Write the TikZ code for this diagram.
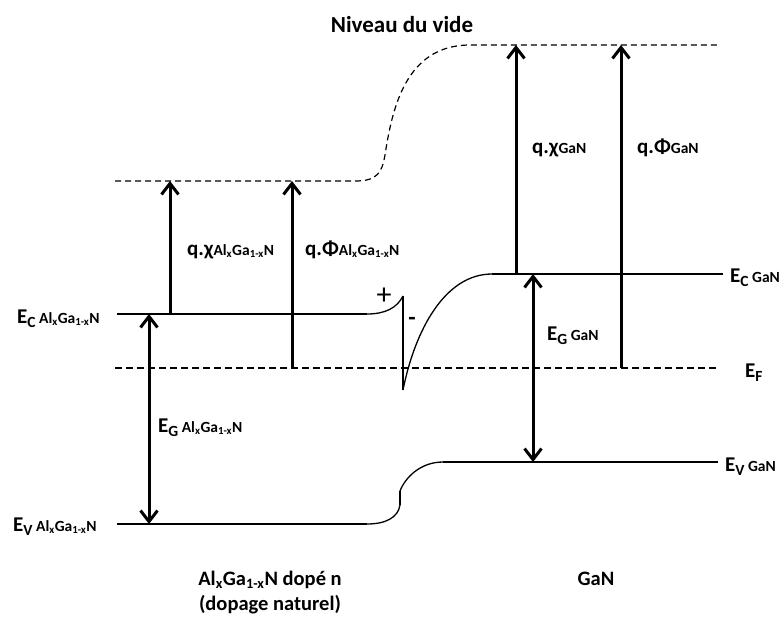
\documentclass[tikz,border=0pt]{standalone}
\usepackage{fontspec}
\setmainfont{Carlito}
\usetikzlibrary{arrows.meta}
\newcommand\Lg{\fontsize{21}{25}\selectfont\bfseries}
\newcommand\Sm{\fontsize{15.5}{18}\selectfont\bfseries}
\newcommand\Bt{\fontsize{20.5}{24}\selectfont\bfseries}
\newcommand\sbx[1]{\raisebox{-4pt}{\Sm #1}}
\newcommand\agn{Al\textsubscript{x}Ga\textsubscript{1-x}N}
\begin{document}
\begin{tikzpicture}[x=1pt,y=-1pt,
  band/.style={line width=2.6pt},
  thin/.style={line width=1.3pt},
  vac/.style={line width=1.2pt, dash pattern=on 6pt off 4pt},
  fermi/.style={line width=1.5pt, dash pattern=on 7pt off 4pt},
  arr/.style={line width=3pt, -{Straight Barb[length=11pt,width=17pt]}},
  darr/.style={line width=3pt, {Straight Barb[length=11pt,width=17pt]}-{Straight Barb[length=11pt,width=17pt]}},
  lbl/.style={anchor=base west, inner sep=0pt, font=\Lg},
  sign/.style={anchor=center, inner sep=0pt, font=\fontsize{24}{26}\selectfont\bfseries}]
\useasboundingbox (0,0) rectangle (781,621);
% level coordinates
\coordinate (vl0) at (115,181); \coordinate (vl1) at (355,181);
\coordinate (vr0) at (470,45);  \coordinate (vr1) at (718,45);
\coordinate (cl0) at (117,314); \coordinate (cl1) at (367,314);
\coordinate (spk) at (403,296); \coordinate (dip) at (403,390);
\coordinate (cr0) at (492,274); \coordinate (cr1) at (723,274);
\coordinate (f0) at (115,368);  \coordinate (f1) at (716,368);
\coordinate (wl0) at (117,524); \coordinate (wl1) at (367,524);
\coordinate (wa) at (400,505);  \coordinate (wb) at (400,491);
\coordinate (wr0) at (443,462); \coordinate (wr1) at (718,462);
% vacuum level
\draw[vac] (vl0) -- (vl1) .. controls (378,181) and (382,172) .. (385,155)
  .. controls (392,110) and (405,45) .. (vr0) -- (vr1);
% Fermi level
\draw[fermi] (f0) -- (f1);
% conduction band
\draw[band] (cl0) -- (cl1);
\draw[thin] (cl1) .. controls (385,314) and (397,308) .. (spk);
\draw[band] (spk) -- (dip);
\draw[thin] (dip) .. controls (415,330) and (445,274) .. (cr0);
\draw[band] (cr0) -- (cr1);
% valence band
\draw[band] (wl0) -- (wl1);
\draw[thin] (wl1) .. controls (385,524) and (398,518) .. (wa);
\draw[line width=1.8pt] (wa) -- (wb);
\draw[thin] (wb) .. controls (405,478) and (420,462) .. (wr0);
\draw[band] (wr0) -- (wr1);
% arrows
\coordinate (a1b) at (170,314); \coordinate (a1t) at (170,181);
\coordinate (a2b) at (292,368); \coordinate (a2t) at (292,181);
\coordinate (g1t) at (149,314); \coordinate (g1b) at (149,524);
\coordinate (a3b) at (516,274); \coordinate (a3t) at (516,45);
\coordinate (a4b) at (621,368); \coordinate (a4t) at (621,45);
\coordinate (g2t) at (533,274); \coordinate (g2b) at (533,462);
\draw[arr] (a1b) -- (a1t);
\draw[arr] (a2b) -- (a2t);
\draw[darr] (g1b) -- (g1t);
\draw[arr] (a3b) -- (a3t);
\draw[arr] (a4b) -- (a4t);
\draw[darr] (g2b) -- (g2t);
% labels
\node[lbl] (lchiA) at (187,255) {q.χ{\Sm\agn}};
\node[lbl] (lphiA) at (305,255) {q.Φ{\Sm\agn}};
\node[lbl] (lecA) at (17,323) {E\sbx{C}\,{\Sm\agn}};
\node[lbl] (legA) at (158,432) {E\sbx{G}\,{\Sm\agn}};
\node[lbl] (levA) at (13,531) {E\sbx{V}\,{\Sm\agn}};
\node[lbl] (lchiG) at (532,153) {q.χ{\Sm GaN}};
\node[lbl] (lphiG) at (637,153) {q.Φ{\Sm GaN}};
\node[lbl] (lecG) at (730,282) {E\sbx{C}\,{\Sm GaN}};
\node[lbl] (legG) at (547,340) {E\sbx{G}\,{\Sm GaN}};
\node[lbl] (lef) at (745,377) {E\sbx{F}};
\node[lbl] (levG) at (725,471) {E\sbx{V}\,{\Sm GaN}};
\node[sign, font=\fontsize{30}{32}\selectfont] (plus) at (384,296) {+};
\node[sign] (minus) at (412,321) {-};
\node[anchor=base, inner sep=0pt, font=\fontsize{23}{27}\selectfont\bfseries] (vide) at (402,32) {Niveau du vide};
\node[anchor=base, inner sep=0pt, font=\Bt] (matA) at (270,585) {Al\textsubscript{x}Ga\textsubscript{1-x}N dopé n};
\node[anchor=base, inner sep=0pt, font=\Bt] (matA2) at (270,610) {(dopage naturel)};
\node[anchor=base, inner sep=0pt, font=\Bt] (matG) at (596,585) {GaN};
\end{tikzpicture}
\end{document}
